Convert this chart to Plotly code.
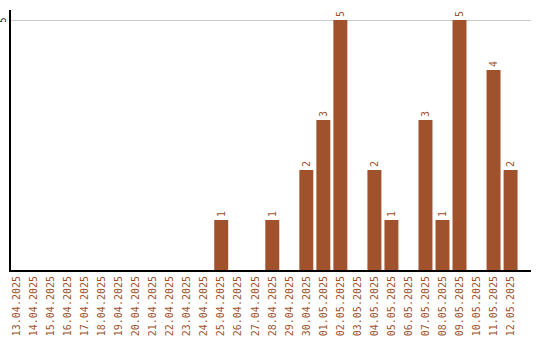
import plotly.graph_objects as go

dates = ["13.04.2025","14.04.2025","15.04.2025","16.04.2025","17.04.2025","18.04.2025",
         "19.04.2025","20.04.2025","21.04.2025","22.04.2025","23.04.2025","24.04.2025",
         "25.04.2025","26.04.2025","27.04.2025","28.04.2025","29.04.2025","30.04.2025",
         "01.05.2025","02.05.2025","03.05.2025","04.05.2025","05.05.2025","06.05.2025",
         "07.05.2025","08.05.2025","09.05.2025","10.05.2025","11.05.2025","12.05.2025"]
counts = [0,0,0,0,0,0,0,0,0,0,0,0,1,0,0,1,0,2,3,5,0,2,1,0,3,1,5,0,4,2]
y_tick = 5

color = "#A0522D"
labels = [str(v) if v else "" for v in counts]

fig = go.Figure(go.Bar(
    x=list(range(len(dates))), y=counts, marker_color=color, marker_line_width=0,
    text=labels, textposition="outside", textangle=-90,
    textfont=dict(family="DejaVu Sans Mono", size=10, color=color),
    cliponaxis=False,
))
fig.update_layout(
    width=540, height=340, margin=dict(l=11, r=9, t=10, b=70),
    paper_bgcolor="white", plot_bgcolor="white", bargap=0.18, showlegend=False,
    font=dict(family="DejaVu Sans Mono", size=10),
)
fig.update_xaxes(
    tickmode="array", tickvals=list(range(len(dates))), ticktext=dates,
    range=[-0.35, 30.2], tickangle=-90, showgrid=False, automargin=False,
    showline=True, linecolor="black", linewidth=2, ticks="",
    tickfont=dict(family="DejaVu Sans Mono", size=10, color=color),
)
fig.update_yaxes(
    range=[0, 5.2], tickvals=[y_tick], showticklabels=False, automargin=False,
    showgrid=True, gridcolor="#cccccc", gridwidth=1, zeroline=False,
    showline=True, linecolor="black", linewidth=2, ticks="",
)
fig.add_annotation(
    x=0, xref="paper", y=y_tick, yref="y", text=str(y_tick), showarrow=False,
    textangle=-90, xanchor="right", yanchor="middle", xshift=-2,
    font=dict(family="DejaVu Sans Mono", size=8, color="black"),
)
fig.write_html("out.html")
